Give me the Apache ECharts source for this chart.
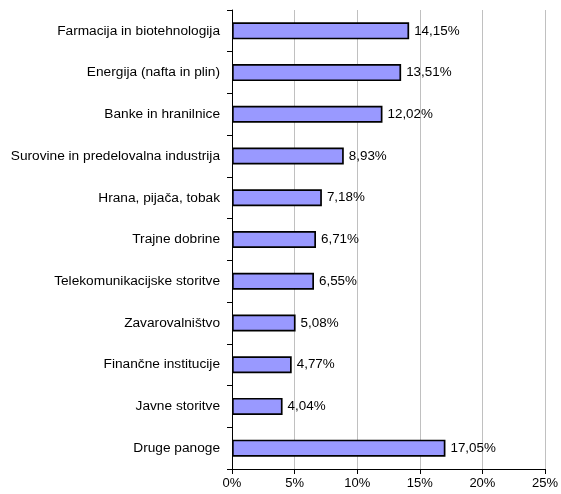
<!DOCTYPE html>
<html>
<head>
<meta charset="utf-8">
<script src="https://cdn.jsdelivr.net/npm/echarts@6/dist/echarts.min.js"></script>
<style>html,body{margin:0;padding:0;background:#fff}#c{width:561px;height:494px}</style>
</head>
<body>
<div id="c"></div>
<script>
const categories = ["Farmacija in biotehnologija","Energija (nafta in plin)","Banke in hranilnice","Surovine in predelovalna industrija","Hrana, pijača, tobak","Trajne dobrine","Telekomunikacijske storitve","Zavarovalništvo","Finančne institucije","Javne storitve","Druge panoge"];
const values = [14.15,13.51,12.02,8.93,7.18,6.71,6.55,5.08,4.77,4.04,17.05];
const xTicks = [0,5,10,15,20,25];
const font = "Liberation Sans, Arial, sans-serif";
const chart = echarts.init(document.getElementById('c'), null, {renderer:'canvas'});
chart.setOption({
  animation:false,
  grid:{left:232,right:13,top:10,bottom:25,containLabel:false},
  xAxis:{type:'value',min:xTicks[0],max:xTicks[xTicks.length-1],interval:5,
    axisLine:{show:true,lineStyle:{color:'#000',width:1}},
    axisTick:{show:true,length:5,lineStyle:{color:'#000'}},
    axisLabel:{formatter:v=>v+'%',color:'#000',fontSize:13,fontFamily:font,margin:8},
    splitLine:{show:true,lineStyle:{color:'#c0c0c0',width:1}}},
  yAxis:{type:'category',data:categories,inverse:true,
    axisLine:{show:true,lineStyle:{color:'#000',width:1}},
    axisTick:{show:true,length:5,alignWithLabel:false,lineStyle:{color:'#000'}},
    axisLabel:{color:'#000',fontSize:13.7,fontFamily:font,margin:12}},
  series:[{type:'bar',data:values,barWidth:17,
    itemStyle:{color:'#9999ff',borderColor:'#000',borderWidth:1.7},
    label:{show:true,position:'right',distance:5,color:'#000',fontSize:13.4,fontFamily:font,
      formatter:p=>p.value.toFixed(2).replace('.',',')+'%'}}]
});
</script>
</body>
</html>
